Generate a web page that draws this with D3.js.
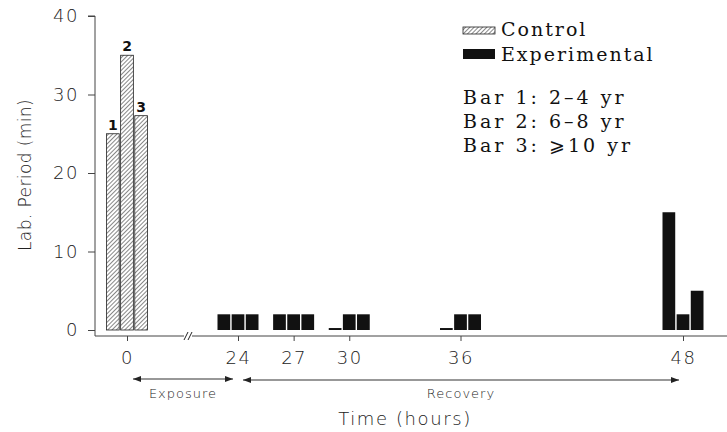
<!DOCTYPE html>
<html>
<head>
<meta charset="utf-8">
<script src="https://cdn.jsdelivr.net/npm/d3@7"></script>
<style>
  body { margin: 0; background: #fff; }
  .sans { font-family: "DejaVu Sans", sans-serif; font-weight: 200; fill: #222; }
  .serif { font-family: "DejaVu Serif", "Liberation Serif", serif; fill: #111; }
</style>
</head>
<body>
<svg id="chart" width="727" height="432"></svg>
<script>
// hours on the x axis (0 sits before the axis break)
const hours = [0, 24, 27, 30, 36, 48];
const xTickLabels = ['0', '24', '27', '30', '36', '48'];
const yTicks = [0, 10, 20, 30, 40];

// control group, measured at hour 0 only (bars 1..3)
const controlValues = [25, 35, 27.3];
// experimental group, bars 1..3 at each later hour
const expHours = [24, 27, 30, 36, 48];
const expBar1 = [2, 2, 0.25, 0.25, 15];
const expBar2 = [2, 2, 2, 2, 2];
const expBar3 = [2, 2, 2, 2, 5];

const legendLines = ['Bar 1: 2\u20134 yr', 'Bar 2: 6\u20138 yr', 'Bar 3: \u2a7e10 yr'];

const svg = d3.select('#chart');

const y = d3.scaleLinear().domain([0, 40]).range([330, 16]);
const x = d3.scaleLinear().domain([0, 24, 48]).range([127, 238, 683]);
const sub = d3.scaleBand().domain([0, 1, 2]).range([-20.5, 20.5]).paddingInner(0.1);

// hatch pattern for control bars
const defs = svg.append('defs');
const pat = defs.append('pattern')
  .attr('id', 'hatch')
  .attr('patternUnits', 'userSpaceOnUse')
  .attr('width', 3).attr('height', 3)
  .attr('patternTransform', 'rotate(45)');
pat.append('rect').attr('width', 3).attr('height', 3).attr('fill', '#fff');
pat.append('line').attr('x1', 0).attr('y1', 0).attr('x2', 0).attr('y2', 3)
  .attr('stroke', '#222').attr('stroke-width', 1.1);

// y axis
const yAxis = d3.axisLeft(y).tickValues(yTicks).tickSize(7).tickPadding(9);
const gy = svg.append('g').attr('transform', 'translate(95,0)').call(yAxis);
gy.select('.domain').attr('d', 'M-7,' + y(40) + 'H0V336').attr('stroke', '#444');
gy.selectAll('.tick line').attr('stroke', '#444');
gy.selectAll('.tick text').attr('class', 'sans').style('font-size', '18px')
  .style('letter-spacing', '1.5px').attr('fill', '#222');

// x axis
const xAxis = d3.axisBottom(x).tickValues(hours)
  .tickFormat((d, i) => xTickLabels[i]).tickSize(5).tickPadding(10);
const gx = svg.append('g').attr('transform', 'translate(0,336)').call(xAxis);
gx.select('.domain').attr('d', 'M95,0H727').attr('stroke', '#444');
gx.selectAll('.tick line').attr('stroke', '#444');
gx.selectAll('.tick text').attr('class', 'sans').style('font-size', '18px')
  .style('letter-spacing', '1.5px').attr('fill', '#222');

// axis break
const bx = 189;
svg.append('rect').attr('x', bx - 5).attr('y', 332).attr('width', 8).attr('height', 8).attr('fill', '#fff');
[-3, 1].forEach(o => {
  svg.append('line').attr('x1', bx + o - 2).attr('y1', 340).attr('x2', bx + o + 2).attr('y2', 332)
    .attr('stroke', '#222').attr('stroke-width', 1);
});

// control bars
svg.append('g').selectAll('rect').data(controlValues).join('rect')
  .attr('x', (d, i) => x(0) + sub(i))
  .attr('width', sub.bandwidth())
  .attr('y', d => y(d))
  .attr('height', d => y(0) - y(d))
  .attr('fill', 'url(#hatch)')
  .attr('stroke', '#222').attr('stroke-width', 0.8);

svg.append('g').selectAll('text').data(controlValues).join('text')
  .attr('x', (d, i) => x(0) + sub(i) + sub.bandwidth() / 2)
  .attr('y', d => y(d) - 4)
  .attr('text-anchor', 'middle')
  .attr('font-family', 'DejaVu Sans, sans-serif')
  .attr('font-weight', 'bold')
  .attr('font-size', 14)
  .attr('fill', '#111')
  .text((d, i) => i + 1);

// experimental bars
const expRows = [];
expHours.forEach((h, j) => {
  [expBar1[j], expBar2[j], expBar3[j]].forEach((v, i) => expRows.push({ h, i, v }));
});
svg.append('g').selectAll('rect').data(expRows).join('rect')
  .attr('x', d => x(d.h) + sub(d.i))
  .attr('width', sub.bandwidth())
  .attr('y', d => y(d.v))
  .attr('height', d => y(0) - y(d.v))
  .attr('fill', '#111');

// exposure / recovery arrows
function arrow(x1, x2, yy) {
  svg.append('line').attr('x1', x1).attr('x2', x2).attr('y1', yy).attr('y2', yy)
    .attr('stroke', '#333').attr('stroke-width', 1.2);
  [[x1, 1], [x2, -1]].forEach(([px, dir]) => {
    svg.append('path')
      .attr('d', `M${px},${yy}l${dir * 8},-3l0,6z`)
      .attr('fill', '#222');
  });
}
arrow(133, 233, 379);
arrow(243, 679, 380);

svg.append('text').attr('class', 'sans').attr('x', 183).attr('y', 398)
  .attr('text-anchor', 'middle').style('font-size', '13px').style('letter-spacing', '1px').text('Exposure');
svg.append('text').attr('class', 'sans').attr('x', 461).attr('y', 398)
  .attr('text-anchor', 'middle').style('font-size', '13px').style('letter-spacing', '1px').text('Recovery');

svg.append('text').attr('class', 'sans').attr('x', 405).attr('y', 425)
  .attr('text-anchor', 'middle').style('font-size', '18px').style('letter-spacing', '1.6px').text('Time (hours)');

svg.append('text').attr('class', 'sans')
  .attr('transform', 'translate(31,175) rotate(-90)')
  .attr('text-anchor', 'middle').style('font-size', '17px').style('letter-spacing', '0.4px').text('Lab. Period (min)');

// legend
const lg = svg.append('g');
lg.append('rect').attr('x', 463).attr('y', 27).attr('width', 32).attr('height', 7)
  .attr('fill', 'url(#hatch)').attr('stroke', '#222').attr('stroke-width', 0.8);
lg.append('rect').attr('x', 463).attr('y', 49).attr('width', 32).attr('height', 10).attr('fill', '#111');
lg.append('text').attr('class', 'serif').attr('x', 501).attr('y', 36)
  .style('font-size', '19px').style('letter-spacing', '2px').text('Control');
lg.append('text').attr('class', 'serif').attr('x', 501).attr('y', 61)
  .style('font-size', '19px').style('letter-spacing', '2px').text('Experimental');
lg.selectAll('text.bar').data(legendLines).join('text')
  .attr('class', 'serif bar')
  .attr('x', 463)
  .attr('y', (d, i) => 104 + i * 24)
  .style('font-size', '19px')
  .style('letter-spacing', '3px')
  .text(d => d);
</script>
</body>
</html>
